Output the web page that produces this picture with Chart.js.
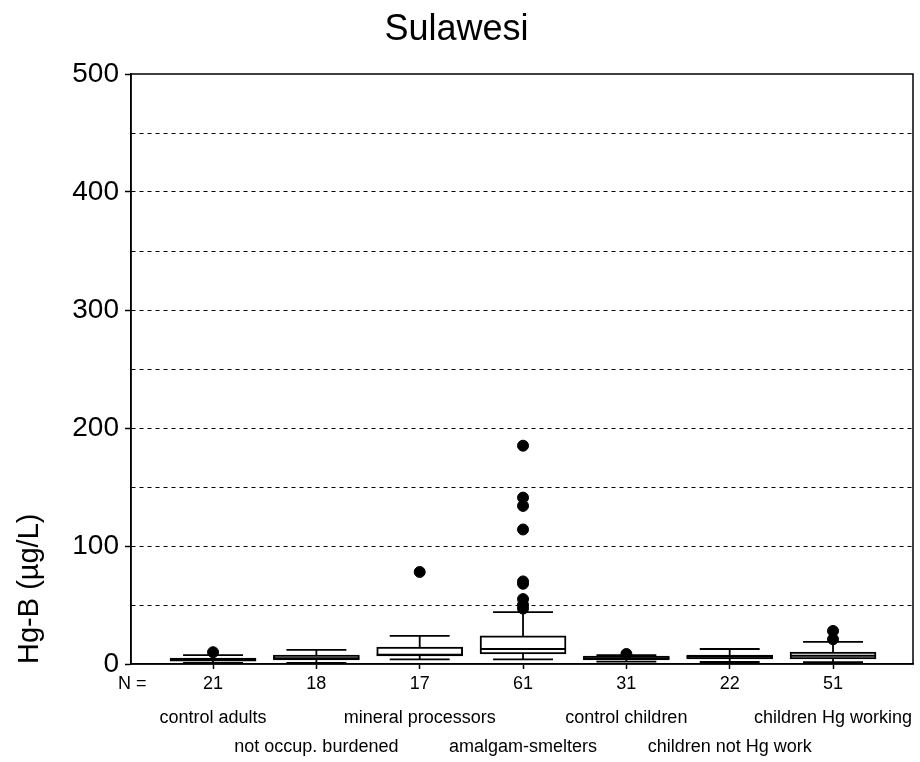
<!DOCTYPE html>
<html>
<head>
<meta charset="utf-8">
<title>Sulawesi</title>
<script src="https://cdn.jsdelivr.net/npm/chart.js@4"></script>
<style>
  html, body { margin: 0; padding: 0; background: #fff; }
  #wrap { width: 920px; height: 762px; }
</style>
</head>
<body>
<div id="wrap"><canvas id="myChart"></canvas></div>
<script>
// --- data (Hg-B in µg/L) ---
let groups = ['control adults', 'not occup. burdened', 'mineral processors', 'amalgam-smelters',
              'control children', 'children not Hg work', 'children Hg working'];
let counts = [21, 18, 17, 61, 31, 22, 51];

let whiskLow  = [1.0, 1.0, 4.0, 4.0, 2.0, 1.7, 1.5];
let q1        = [2.5, 3.4, 6.8, 8.5, 3.4, 4.2, 4.2];
let median    = [3.5, 5.0, 8.0, 12.7, 5.0, 6.0, 7.0];
let q3        = [5.0, 7.6, 14.4, 23.8, 6.8, 7.6, 10.0];
let whiskHigh = [7.6, 12.0, 23.8, 44.0, 7.5, 12.7, 18.7];

let outlierGroup = [0, 2, 3, 3, 3, 3, 3, 3, 3, 3, 3, 4, 6, 6];
let outlierValue = [10, 78, 185, 141, 134, 114, 70, 68, 55, 50, 47, 8.5, 28, 21];

let yTicks = [0, 100, 200, 300, 400, 500];

// --- build datasets ---
const capHalf = 0.29;
const boxHalf = 0.416;

let whiskerPts = [];
let medianPts = [];
let boxPts = [];
for (let i = 0; i < groups.length; i++) {
    whiskerPts.push({x: i, y: whiskLow[i]}, {x: i, y: q1[i]}, {x: i, y: null});
    whiskerPts.push({x: i, y: q3[i]}, {x: i, y: whiskHigh[i]}, {x: i, y: null});
    whiskerPts.push({x: i - capHalf, y: whiskLow[i]}, {x: i + capHalf, y: whiskLow[i]}, {x: i, y: null});
    whiskerPts.push({x: i - capHalf, y: whiskHigh[i]}, {x: i + capHalf, y: whiskHigh[i]}, {x: i, y: null});
    medianPts.push({x: i - boxHalf, y: median[i]}, {x: i + boxHalf, y: median[i]}, {x: i, y: null});
    boxPts.push({x: i, y: [q1[i], q3[i]]});
}
let outlierPts = outlierGroup.map((g, k) => ({x: g, y: outlierValue[k]}));

const xMin = -0.794, xMax = 6.774;
const sans = "'Liberation Sans', Arial, Helvetica, sans-serif";

Chart.defaults.font.family = sans;
Chart.defaults.color = '#000';

const frame = {
    id: 'frame',
    afterDatasetsDraw(chart) {
        const a = chart.chartArea, c = chart.ctx;
        c.save();
        c.strokeStyle = '#000';
        c.lineWidth = 1.5;
        c.strokeRect(a.left, a.top, a.right - a.left, a.bottom - a.top);
        // "N =" caption in front of the count row
        c.fillStyle = '#000';
        c.font = '18px ' + sans;
        c.textAlign = 'left';
        c.textBaseline = 'middle';
        c.fillText('N =', a.left - 13, a.bottom + 20);
        c.restore();
    }
};

let ctx = document.getElementById('myChart');

const myChart = new Chart(ctx, {
    type: 'bar',
    data: {
        datasets: [{
            type: 'line',
            data: whiskerPts,
            borderColor: '#000',
            borderWidth: 1.8,
            pointRadius: 0,
            spanGaps: false,
            order: 4
        }, {
            type: 'bar',
            data: boxPts,
            backgroundColor: '#fff',
            borderColor: '#000',
            borderWidth: 2,
            borderSkipped: false,
            barThickness: 86,
            order: 3
        }, {
            type: 'line',
            data: medianPts,
            borderColor: '#000',
            borderWidth: 1.8,
            pointRadius: 0,
            spanGaps: false,
            order: 2
        }, {
            type: 'scatter',
            data: outlierPts,
            backgroundColor: '#000',
            borderColor: '#000',
            pointRadius: 5.5,
            order: 1
        }]
    },
    options: {
        responsive: true,
        maintainAspectRatio: false,
        animation: false,
        layout: { padding: { left: 0, right: 7, top: 0, bottom: 0 } },
        plugins: {
            legend: { display: false },
            tooltip: { enabled: false },
            title: {
                display: true,
                text: 'Sulawesi',
                color: '#000',
                font: { size: 36, weight: 'normal' },
                padding: { top: 8, bottom: 22.8 }
            }
        },
        scales: {
            x: {
                type: 'linear',
                offset: false,
                min: xMin,
                max: xMax,
                afterBuildTicks: (s) => { s.ticks = counts.map((_, i) => ({value: i})); },
                afterFit: (s) => { s.height = 34; },
                grid: { offset: false, drawOnChartArea: false, tickLength: 5, tickColor: '#000', tickWidth: 1.5 },
                border: { color: '#000', width: 1.5 },
                ticks: {
                    padding: 4,
                    maxRotation: 0,
                    autoSkip: false,
                    font: { size: 18 },
                    callback: (v) => String(counts[v])
                }
            },
            x2: {
                type: 'linear',
                position: 'bottom',
                offset: false,
                min: xMin,
                max: xMax,
                afterBuildTicks: (s) => { s.ticks = groups.map((_, i) => ({value: i})); },
                afterFit: (s) => { s.height = 64; },
                grid: { display: false, drawTicks: false, offset: false },
                border: { display: false },
                ticks: {
                    padding: 5.5,
                    maxRotation: 0,
                    autoSkip: false,
                    font: { size: 18, lineHeight: '29px' },
                    callback: (v) => (v % 2 === 0 ? [groups[v]] : ['', groups[v]])
                }
            },
            y: {
                min: 0,
                max: 500,
                afterBuildTicks: (s) => {
                    let t = [];
                    for (let v = 0; v <= 500; v += 50) t.push({value: v});
                    s.ticks = t;
                },
                afterFit: (s) => { s.width = 131; },
                grid: {
                    color: (c) => (c.tick && c.tick.value > 0 && c.tick.value < 500 ? '#000' : 'rgba(0,0,0,0)'),
                    lineWidth: 1,
                    tickLength: 6,
                    tickWidth: 1.5,
                    tickBorderDash: [],
                    tickColor: (c) => (c.tick && yTicks.includes(c.tick.value) ? '#000' : 'rgba(0,0,0,0)')
                },
                border: { color: '#000', width: 1.5, dash: [4, 4] },
                ticks: {
                    padding: 6,
                    font: { size: 28 },
                    callback: (v) => (yTicks.includes(v) ? String(v) : '')
                },
                title: {
                    display: true,
                    text: 'Hg-B (µg/L)',
                    align: 'start',
                    color: '#000',
                    font: { size: 29 },
                    padding: { top: 13, bottom: 0 }
                }
            }
        }
    },
    plugins: [frame]
});
</script>
</body>
</html>
